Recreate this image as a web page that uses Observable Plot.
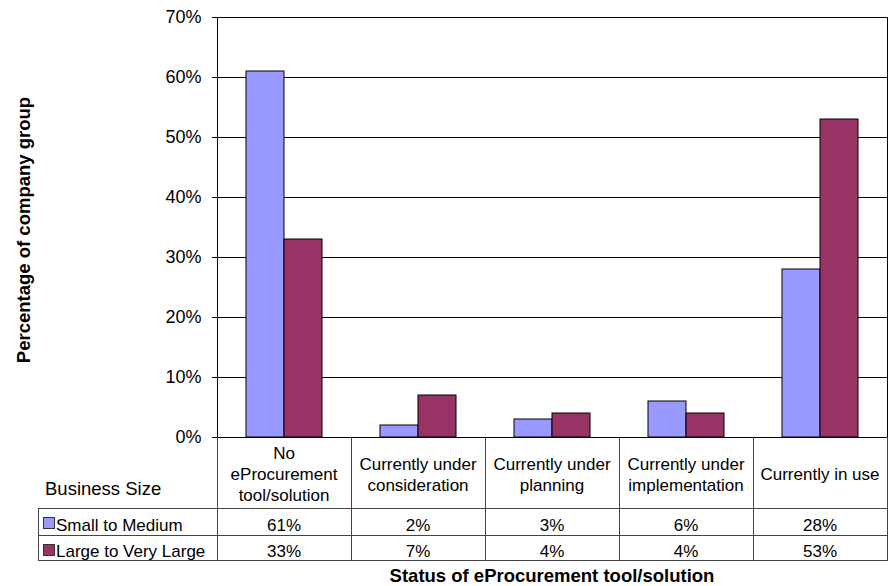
<!DOCTYPE html>
<html>
<head>
<meta charset="utf-8">
<script src="https://cdn.jsdelivr.net/npm/d3@7"></script>
<script src="https://cdn.jsdelivr.net/npm/@observablehq/plot@0.6"></script>
<style>
  html, body { margin: 0; padding: 0; background: #fff; }
  #wrap {
    position: relative; width: 892px; height: 586px; overflow: hidden;
    font-family: "Liberation Sans", Arial, sans-serif; color: #000;
  }
  #wrap svg { position: absolute; left: 0; top: 0; }
  .cell { position: absolute; box-sizing: border-box; white-space: pre-line; }
  .line { position: absolute; background: #444; }
</style>
</head>
<body>
<div id="wrap"></div>
<script>
// Status categories along the x axis, with the line breaks used in the data table header
const categories = [
  "No eProcurement tool/solution",
  "Currently under consideration",
  "Currently under planning",
  "Currently under implementation",
  "Currently in use"
];
const categoryLines = [
  ["No", "eProcurement", "tool/solution"],
  ["Currently under", "consideration"],
  ["Currently under", "planning"],
  ["Currently under", "implementation"],
  ["Currently in use"]
];

// Business size groups (series) and their shares, in percent
const seriesNames = ["Small to Medium", "Large to Very Large"];
const smallToMedium = [61, 2, 3, 6, 28];
const largeToVeryLarge = [33, 7, 4, 4, 53];
const seriesColors = ["#9999FF", "#993366"];

// Y axis ticks (percent)
const yTicks = [0, 10, 20, 30, 40, 50, 60, 70];

const yTitle = "Percentage of company group";
const xTitle = "Status of eProcurement tool/solution";
const tableTitle = "Business Size";

const seriesValues = [smallToMedium, largeToVeryLarge];
const rows = [];
categories.forEach((c, i) => {
  seriesNames.forEach((s, j) => rows.push({category: c, series: s, value: seriesValues[j][i]}));
});

const font = "'Liberation Sans', Arial, sans-serif";

const chart = Plot.plot({
  width: 892,
  height: 586,
  marginLeft: 217,
  marginRight: 5,
  marginTop: 17,
  marginBottom: 149,
  style: {fontFamily: font, fontSize: "18px", color: "#000", background: "transparent", overflow: "visible"},
  fx: {domain: categories, padding: 0, axis: null},
  x: {domain: seriesNames, paddingInner: 0, paddingOuter: 0.75, axis: null},
  y: {domain: [0, 70]},
  color: {domain: seriesNames, range: seriesColors},
  marks: [
    Plot.gridY(yTicks, {stroke: "#000", strokeOpacity: 1, strokeWidth: 1}),
    Plot.barY(rows, {
      fx: "category", x: "series", y: "value", fill: "series",
      stroke: "#000", strokeWidth: 1, inset: 0
    }),
    Plot.axisY(yTicks, {
      tickSize: 5, tickPadding: 11, tickFormat: d => d + "%",
      fontSize: 18, label: null, stroke: "#000", fill: "#000"
    }),
    Plot.frame({anchor: "left", facetAnchor: "left", stroke: "#000"}),
    Plot.frame({anchor: "right", facetAnchor: "right", stroke: "#000"}),
    Plot.text([yTitle], {
      text: d => d, frameAnchor: "left", facetAnchor: "left",
      rotate: -90, dx: -193, dy: 2.5,
      fontWeight: "bold", fontSize: 18.5, fill: "#000",
      textAnchor: "middle", lineAnchor: "middle"
    })
  ]
});

const wrap = document.getElementById("wrap");
wrap.appendChild(chart);

// Data table under the plot, aligned to the category bands
const fx = chart.scale("fx");
const y = chart.scale("y");
const y0 = Math.round(y.apply(0));
const colEdges = categories.map(c => Math.round(fx.apply(c)));
const tableRight = Math.round(fx.range[1]);
colEdges.push(tableRight);
const band = fx.bandwidth;

const legendLeft = 38;
const headerBottom = y0 + 71;
const rowTops = [headerBottom, headerBottom + 27];
const tableBottom = headerBottom + 52;

function add(cls, css, text) {
  const el = document.createElement("div");
  el.className = cls;
  Object.assign(el.style, css);
  if (text != null) el.textContent = text;
  wrap.appendChild(el);
  return el;
}

// grid lines of the table
colEdges.forEach(xe => add("line", {left: xe + "px", top: y0 + "px", width: "1px", height: (tableBottom - y0 + 1) + "px"}));
add("line", {left: legendLeft + "px", top: headerBottom + "px", width: "1px", height: (tableBottom - headerBottom + 1) + "px"});
[headerBottom, rowTops[1], tableBottom].forEach(yl =>
  add("line", {left: legendLeft + "px", top: yl + "px", width: (tableRight - legendLeft + 1) + "px", height: "1px"}));

// header: category names
categories.forEach((c, i) => {
  add("cell", {
    left: colEdges[i] + "px", top: (y0 + 2) + "px", width: band + "px", height: "71px",
    display: "flex", alignItems: "center", justifyContent: "center",
    textAlign: "center", fontSize: "17px", lineHeight: "21px"
  }, categoryLines[i].join("\n"));
});

// table title
add("cell", {left: "45px", top: "478px", fontSize: "18.5px", lineHeight: "22px"}, tableTitle);

// series rows: legend key, name and values
const rowHeights = [27, 25];
seriesNames.forEach((s, j) => {
  const top = rowTops[j];
  add("cell", {
    left: (legendLeft + 5) + "px", top: (top + 9) + "px", width: "12px", height: "12px",
    background: seriesColors[j], border: "1px solid #333"
  });
  add("cell", {left: (legendLeft + 18) + "px", top: (top + 4) + "px", fontSize: "17px", lineHeight: rowHeights[j] + "px"}, s);
  seriesValues[j].forEach((v, i) => {
    add("cell", {
      left: colEdges[i] + "px", top: (top + 4) + "px", width: band + "px",
      textAlign: "center", fontSize: "17px", lineHeight: rowHeights[j] + "px"
    }, v + "%");
  });
});

// x axis title, centred under the plot frame
add("cell", {
  left: fx.range[0] + "px", width: (fx.range[1] - fx.range[0]) + "px", top: "565px",
  textAlign: "center", fontSize: "18.5px", fontWeight: "bold", lineHeight: "22px"
}, xTitle);
</script>
</body>
</html>
